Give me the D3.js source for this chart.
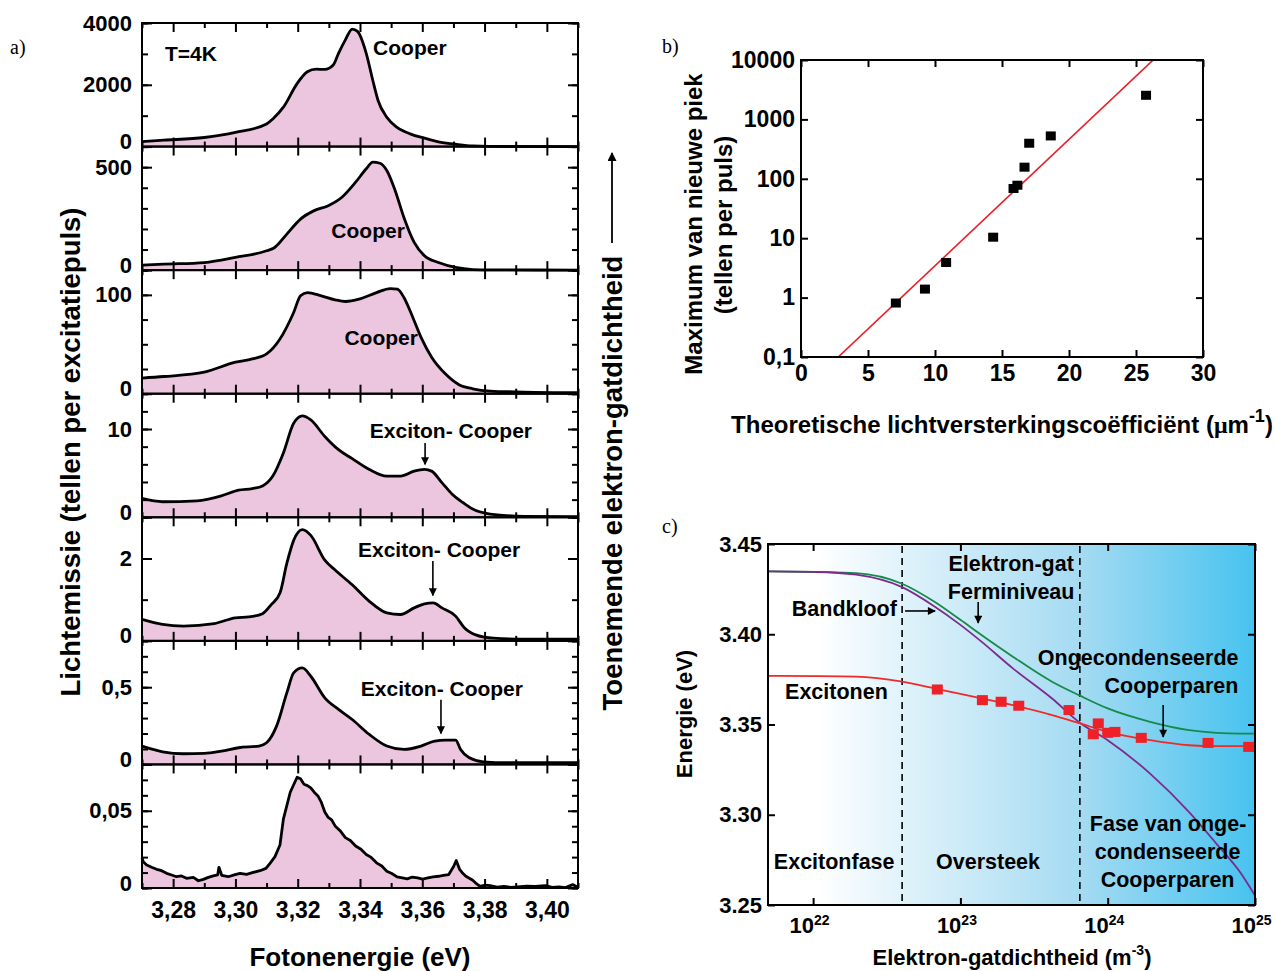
<!DOCTYPE html>
<html>
<head>
<meta charset="utf-8">
<script src="https://cdn.jsdelivr.net/npm/d3@7"></script>
<style>
body { margin: 0; background: #fff; }
text { font-family: "Liberation Sans", Arial, sans-serif; font-weight: bold; }
</style>
</head>
<body>
<svg id="chart"></svg>
<script>
// ---------- panel a: spectra, [photon energy (eV), counts per pulse] ----------
var spectrum1 = [[3.27,163],[3.2771,207],[3.29,294],[3.30,458],[3.31,730],[3.312,894],[3.3154,1275],[3.3198,2038],
  [3.3231,2420],[3.3259,2507],[3.3287,2496],[3.3314,2638],[3.3331,3019],[3.3353,3455],[3.3375,3804],[3.3392,3728],
  [3.342,3019],[3.3441,2147],[3.3458,1493],[3.3486,948],[3.3519,621],[3.3563,403],[3.3607,272],[3.3652,153],
  [3.3707,76],[3.3762,22],[3.387,2],[3.41,1]];
var spectrum2 = [[3.27,24],[3.277,29],[3.29,37],[3.30,62],[3.31,94],[3.3126,110],[3.3165,175],[3.3209,248],
  [3.3253,289],[3.3298,313],[3.3342,354],[3.3386,427],[3.342,492],[3.3441,524],[3.3464,519],[3.3486,484],
  [3.3513,386],[3.3541,256],[3.3574,135],[3.3607,70],[3.3652,37],[3.3707,13],[3.3762,3],[3.382,1],[3.41,0.5]];
var spectrum3 = [[3.27,15.8],[3.277,17.4],[3.29,21.8],[3.30,31.9],[3.3054,35.2],[3.31,40.3],[3.3143,55.4],
  [3.3187,82.2],[3.3209,99],[3.3231,102.3],[3.3276,99],[3.332,95],[3.3353,93.3],[3.3397,95.6],[3.3453,102.3],
  [3.3497,106.4],[3.352,105.7],[3.3541,97.3],[3.3563,82.2],[3.3596,57],[3.363,36.9],[3.3674,20.1],[3.3718,9.1],
  [3.3762,5],[3.3818,2.7],[3.3928,1.7],[3.41,1.0]];
var spectrum4 = [[3.27,2.13],[3.2766,1.76],[3.2877,1.87],[3.2955,2.43],[3.301,3.07],[3.3054,3.25],[3.3087,3.55],
  [3.312,4.67],[3.3154,7.29],[3.3187,10.65],[3.3215,11.48],[3.3242,11.03],[3.3287,9.16],[3.3331,7.66],
  [3.3375,6.65],[3.343,5.42],[3.3486,4.67],[3.353,4.67],[3.3574,5.23],[3.3607,5.42],[3.363,5.23],[3.3663,3.93],
  [3.3696,2.62],[3.373,1.68],[3.3762,0.93],[3.3818,0.37],[3.3928,0.11],[3.41,0.07]];
var spectrum5 = [[3.27,0.52],[3.2766,0.40],[3.2833,0.36],[3.2932,0.42],[3.30,0.56],[3.3043,0.58],[3.3087,0.66],
  [3.3115,0.88],[3.3143,1.16],[3.3165,1.88],[3.3187,2.44],[3.3215,2.70],[3.3242,2.56],[3.3287,1.96],[3.332,1.72],
  [3.3375,1.36],[3.343,0.96],[3.3486,0.68],[3.353,0.64],[3.3574,0.80],[3.3607,0.90],[3.3635,0.92],[3.3663,0.80],
  [3.3707,0.60],[3.3735,0.32],[3.3774,0.14],[3.3829,0.064],[3.3928,0.04],[3.41,0.04]];
var spectrum6 = [[3.27,0.1185],[3.2766,0.082],[3.2833,0.069],[3.29,0.071],[3.2955,0.086],[3.301,0.108],
  [3.3076,0.119],[3.31,0.140],[3.3132,0.248],[3.3165,0.463],[3.3187,0.593],[3.3215,0.625],[3.3242,0.571],
  [3.3287,0.431],[3.3331,0.356],[3.3375,0.291],[3.343,0.194],[3.3486,0.119],[3.3541,0.097],[3.3596,0.119],
  [3.364,0.151],[3.3674,0.157],[3.3707,0.157],[3.3723,0.097],[3.3751,0.043],[3.3796,0.017],[3.3873,0.011],[3.41,0.011]];
var spectrum7 = [[3.27,0.0195],[3.2704,0.017],[3.2715,0.0149],[3.2731,0.0134],[3.2747,0.0121],[3.2763,0.0112],
  [3.2779,0.0095],[3.2795,0.0084],[3.2811,0.0073],[3.2827,0.0078],[3.2843,0.0063],[3.2865,0.0069],[3.2881,0.0047],
  [3.2897,0.0056],[3.2913,0.0069],[3.2929,0.0078],[3.2943,0.0085],[3.2947,0.0134],[3.2956,0.0082],[3.2977,0.0073],
  [3.2999,0.0086],[3.3015,0.0095],[3.3036,0.0088],[3.3057,0.0101],[3.3079,0.0112],[3.3098,0.0127],[3.3111,0.016],
  [3.3127,0.0203],[3.3143,0.0278],[3.3154,0.0446],[3.3176,0.062],[3.3198,0.0717],[3.3209,0.0707],[3.322,0.0672],
  [3.3231,0.0663],[3.3242,0.0648],[3.3253,0.062],[3.3265,0.0596],[3.3276,0.0554],[3.3287,0.0492],[3.3298,0.0457],
  [3.3309,0.0441],[3.332,0.0402],[3.3336,0.0371],[3.3353,0.0326],[3.3369,0.0308],[3.3386,0.0272],[3.3403,0.0251],
  [3.342,0.0217],[3.3436,0.0198],[3.3453,0.0163],[3.347,0.0142],[3.3486,0.0109],[3.3502,0.0094],[3.3519,0.0072],
  [3.3536,0.0066],[3.3552,0.0059],[3.3568,0.0071],[3.3585,0.0065],[3.3601,0.0058],[3.3618,0.0065],[3.3635,0.0072],
  [3.3652,0.0076],[3.3668,0.0081],[3.3685,0.0087],[3.3701,0.0141],[3.3709,0.0178],[3.372,0.012],[3.373,0.0095],
  [3.374,0.0076],[3.3762,0.005],[3.3774,0.0028],[3.3785,0.0011],[3.3802,0.0018],[3.3818,0.0015],[3.384,0.0006],
  [3.3862,0.0011],[3.3884,0.0004],[3.3906,0.0007],[3.3934,0.0012],[3.3962,0.0011],[3.3995,0.0015],[3.4017,0.0004],
  [3.4039,0.0007],[3.406,0.0003],[3.4083,0.0022],[3.41,0.0004]];
var spectra = [spectrum1, spectrum2, spectrum3, spectrum4, spectrum5, spectrum6, spectrum7];

var panelMax = [4000, 600, 125, 14, 3, 0.8, 0.08];
var panelMajor = [[0, 2000, 4000], [0, 500], [0, 100], [0, 10], [0, 2], [0, 0.5], [0, 0.05]];
var panelMinorStep = [1000, 100, 25, 2, 1, 0.1, 0.01];
var energyMajor = [3.28, 3.30, 3.32, 3.34, 3.36, 3.38, 3.40];
var energyMinor = [3.27, 3.29, 3.31, 3.33, 3.35, 3.37, 3.39, 3.41];

// labels placed in data units: [panel, text, energy, value]
var peakLabels = [[0, "T=4K", 3.2857, 2770], [0, "Cooper", 3.356, 2964], [1, "Cooper", 3.3426, 156],
  [2, "Cooper", 3.3468, 49.4], [3, "Exciton- Cooper", 3.3692, 9.0], [4, "Exciton- Cooper", 3.3654, 2.04],
  [5, "Exciton- Cooper", 3.3663, 0.444]];
// arrows: [panel, energy, value from, value to]
var peakArrows = [[3, 3.3609, 8.43, 6.0], [4, 3.3634, 1.94, 1.10], [5, 3.366, 0.418, 0.20]];

// ---------- panel b ----------
var gainX = [7.08, 9.25, 10.83, 14.34, 15.86, 16.15, 16.68, 17.03, 18.64, 25.75];
var peakMax = [0.81, 1.39, 3.9, 10.4, 68.6, 78, 157, 397, 527, 2546];
var fitLogIntercept = -1.592, fitLogSlope = 0.2128;
var gainTicks = [0, 5, 10, 15, 20, 25, 30];
var countTicks = [0.1, 1, 10, 100, 1000, 10000];

// ---------- panel c ----------
var density = [4.94e21, 1.06e22, 1.96e22, 4.02e22, 6.67e22, 1e23, 1.39e23, 2.27e23, 4.19e23, 6.47e23,
  1e24, 1.94e24, 3.57e24, 5.48e24, 7.93e24, 1e25];
var fermiLevel = [3.4348, 3.4345, 3.4339, 3.428, 3.418, 3.408, 3.3996, 3.3876, 3.3737, 3.366,
  3.3589, 3.3515, 3.3469, 3.3454, 3.345, 3.345];
var bandGap = [3.4348, 3.4345, 3.4330, 3.4261, 3.4154, 3.4052, 3.3959, 3.3811, 3.3644, 3.351,
  3.3413, 3.3228, 3.3015, 3.2839, 3.2681, 3.2552];
var excitonFit = [3.3769, 3.3768, 3.3765, 3.3737, 3.370, 3.367, 3.3645, 3.3607, 3.3552, 3.3506,
  3.3459, 3.3413, 3.3385, 3.338, 3.338, 3.338];
var measDensity = [6.97e22, 1.41e23, 1.89e23, 2.49e23, 5.46e23, 8.63e23, 7.98e23, 1.0e24, 1.12e24, 1.69e24, 4.8e24, 9.06e24];
var measEnergy = [3.3694, 3.3635, 3.3626, 3.3604, 3.358, 3.3506, 3.3446, 3.3454, 3.3459, 3.3426, 3.3398, 3.3376];
var phaseBounds = [4.02e22, 6.47e23];
var energyTicks = [3.25, 3.30, 3.35, 3.40, 3.45];
var densityTicks = [1e22, 1e23, 1e24, 1e25];
// [text, density, energy]
var phaseLabels = [["Elektron-gat", 2.21e23, 3.435], ["Ferminiveau", 2.21e23, 3.4195], ["Bandkloof", 1.63e22, 3.4101],
  ["Ongecondenseerde", 1.61e24, 3.383], ["Cooperparen", 2.71e24, 3.3675], ["Excitonen", 1.44e22, 3.3641],
  ["Excitonfase", 1.39e22, 3.27], ["Oversteek", 1.54e23, 3.27], ["Fase van onge-", 2.57e24, 3.291],
  ["condenseerde", 2.55e24, 3.2755], ["Cooperparen", 2.55e24, 3.26]];
// [density from, energy from, density to, energy to]
var phaseArrows = [[1.32e23, 3.4179, 1.32e23, 3.4062], [4.21e22, 3.4129, 6.73e22, 3.4129], [2.38e24, 3.3608, 2.38e24, 3.3431]];

var FONT = '"Liberation Sans", Arial, sans-serif';
var comma = function (f) { return function (d) { return f(d).replace(".", ","); }; };

var svg = d3.select("#chart").attr("width", 1275).attr("height", 971);
var defs = svg.append("defs");
defs.append("marker").attr("id", "arrow").attr("viewBox", "0 0 10 10")
  .attr("refX", 9).attr("refY", 5).attr("markerWidth", 5.5).attr("markerHeight", 5)
  .attr("orient", "auto")
  .append("path").attr("d", "M0,0L10,5L0,10z").attr("fill", "black");

function styleAxis(g, size) {
  g.select(".domain").remove();
  g.attr("font-family", FONT).attr("font-size", size).attr("font-weight", "bold");
  g.selectAll("line").attr("stroke-width", 2);
  g.selectAll("text").attr("fill", "black");
  return g;
}

// ================= panel a =================
var xA = d3.scaleLinear().domain([3.27, 3.41]).range([142, 578]);
var panelH = 865 / 7;

spectra.forEach(function (s, i) {
  var top = 23 + i * panelH, bottom = top + panelH;
  var y = d3.scaleLinear().domain([0, panelMax[i]]).range([bottom, top]);
  var g = svg.append("g");
  var curve = i < 6 ? d3.curveMonotoneX : d3.curveLinear;

  g.append("path").datum(s)
    .attr("d", d3.area().x(function (d) { return xA(d[0]); }).y0(bottom).y1(function (d) { return y(d[1]); }).curve(curve))
    .attr("fill", "#ecc6de");
  g.append("path").datum(s)
    .attr("d", d3.line().x(function (d) { return xA(d[0]); }).y(function (d) { return y(d[1]); }).curve(curve))
    .attr("fill", "none").attr("stroke", "black").attr("stroke-width", 2.8).attr("stroke-linejoin", "round");

  var minor = d3.range(0, panelMax[i] + 1e-9, panelMinorStep[i]);

  var yl = styleAxis(g.append("g").attr("transform", "translate(142,0)")
    .call(d3.axisLeft(y).tickValues(panelMajor[i]).tickSize(-10).tickPadding(10)
      .tickFormat(comma(d3.format("~g")))), 22);
  // lift the zero label a little so it clears the label of the panel below
  yl.selectAll(".tick text").filter(function (d) { return d === 0; }).attr("y", -5);
  styleAxis(g.append("g").attr("transform", "translate(142,0)")
    .call(d3.axisLeft(y).tickValues(minor).tickSize(-6).tickFormat("")), 20);
  styleAxis(g.append("g").attr("transform", "translate(578,0)")
    .call(d3.axisRight(y).tickValues(panelMajor[i]).tickSize(-10).tickFormat("")), 20);
  styleAxis(g.append("g").attr("transform", "translate(578,0)")
    .call(d3.axisRight(y).tickValues(minor).tickSize(-6).tickFormat("")), 20);

  styleAxis(g.append("g").attr("transform", "translate(0," + top + ")")
    .call(d3.axisTop(xA).tickValues(energyMajor).tickSize(-9).tickFormat("")), 20);
  styleAxis(g.append("g").attr("transform", "translate(0," + top + ")")
    .call(d3.axisTop(xA).tickValues(energyMinor).tickSize(-5).tickFormat("")), 20);
  styleAxis(g.append("g").attr("transform", "translate(0," + bottom + ")")
    .call(d3.axisBottom(xA).tickValues(energyMajor).tickSize(-9).tickPadding(14)
      .tickFormat(i === 6 ? comma(d3.format(".2f")) : "")), 23);
  styleAxis(g.append("g").attr("transform", "translate(0," + bottom + ")")
    .call(d3.axisBottom(xA).tickValues(energyMinor).tickSize(-5).tickFormat("")), 20);

  g.append("rect").attr("x", 142).attr("y", top).attr("width", 436).attr("height", panelH)
    .attr("fill", "none").attr("stroke", "black").attr("stroke-width", 2);

  peakLabels.filter(function (p) { return p[0] === i; }).forEach(function (p) {
    g.append("text").attr("x", xA(p[2])).attr("y", y(p[3])).attr("text-anchor", "middle")
      .attr("font-size", 21).text(p[1]);
  });
  peakArrows.filter(function (p) { return p[0] === i; }).forEach(function (p) {
    g.append("line").attr("x1", xA(p[1])).attr("x2", xA(p[1])).attr("y1", y(p[2])).attr("y2", y(p[3]))
      .attr("stroke", "black").attr("stroke-width", 1.6).attr("marker-end", "url(#arrow)");
  });
});

svg.append("text").attr("transform", "translate(80,452) rotate(-90)").attr("text-anchor", "middle")
  .attr("font-size", 27.5).text("Lichtemissie (tellen per excitatiepuls)");
svg.append("text").attr("x", 360).attr("y", 966).attr("text-anchor", "middle")
  .attr("font-size", 26).text("Fotonenergie (eV)");
svg.append("text").attr("transform", "translate(622,483) rotate(-90)").attr("text-anchor", "middle")
  .attr("font-size", 27.5).text("Toenemende elektron-gatdichtheid");
svg.append("line").attr("x1", 612).attr("x2", 612).attr("y1", 243).attr("y2", 153)
  .attr("stroke", "black").attr("stroke-width", 1.8).attr("marker-end", "url(#arrow)");

// panel letters
[["a)", 10, 54], ["b)", 662, 53], ["c)", 662, 533]].forEach(function (l) {
  svg.append("text").attr("x", l[1]).attr("y", l[2]).attr("font-size", 20)
    .style("font-family", '"Liberation Serif", "Times New Roman", serif').style("font-weight", "normal").text(l[0]);
});

// ================= panel b =================
var xB = d3.scaleLinear().domain([0, 30]).range([801, 1203]);
var yB = d3.scaleLog().domain([0.1, 10000]).range([357, 60]);
var gb = svg.append("g");
gb.append("clipPath").attr("id", "clipB").append("rect")
  .attr("x", 801).attr("y", 60).attr("width", 402).attr("height", 297);

var fitLine = d3.line().x(function (d) { return xB(d); })
  .y(function (d) { return yB(Math.pow(10, fitLogIntercept + fitLogSlope * d)); });
gb.append("path").datum([0, 30]).attr("d", fitLine).attr("clip-path", "url(#clipB)")
  .attr("fill", "none").attr("stroke", "#e8202a").attr("stroke-width", 1.6);

gb.selectAll(".sq").data(gainX).enter().append("rect")
  .attr("x", function (d) { return xB(d) - 5; })
  .attr("y", function (d, i) { return yB(peakMax[i]) - 4.5; })
  .attr("width", 10).attr("height", 9).attr("fill", "black");

styleAxis(gb.append("g").attr("transform", "translate(801,0)")
  .call(d3.axisLeft(yB).tickValues(countTicks).tickSize(-7).tickPadding(6)
    .tickFormat(function (d) { return d < 1 ? "0,1" : String(d); })), 23);
styleAxis(gb.append("g").attr("transform", "translate(1203,0)")
  .call(d3.axisRight(yB).tickValues(countTicks).tickSize(-7).tickFormat("")), 20);
styleAxis(gb.append("g").attr("transform", "translate(0,357)")
  .call(d3.axisBottom(xB).tickValues(gainTicks).tickSize(-7).tickPadding(8)), 23);
styleAxis(gb.append("g").attr("transform", "translate(0,60)")
  .call(d3.axisTop(xB).tickValues(gainTicks).tickSize(-7).tickFormat("")), 20);
gb.append("rect").attr("x", 801).attr("y", 60).attr("width", 402).attr("height", 297)
  .attr("fill", "none").attr("stroke", "black").attr("stroke-width", 2);

gb.append("text").attr("transform", "translate(702,224) rotate(-90)").attr("text-anchor", "middle")
  .attr("font-size", 24).text("Maximum van nieuwe piek");
gb.append("text").attr("transform", "translate(732,225) rotate(-90)").attr("text-anchor", "middle")
  .attr("font-size", 24).text("(tellen per puls)");
var tb = gb.append("text").attr("x", 1002).attr("y", 433).attr("text-anchor", "middle").attr("font-size", 24);
tb.append("tspan").text("Theoretische lichtversterkingscoëfficiënt (");
tb.append("tspan").style("font-family", '"Liberation Serif", serif').text("μ");
tb.append("tspan").text("m");
tb.append("tspan").attr("dy", -11).attr("font-size", 18).text("-1");
tb.append("tspan").attr("dy", 11).text(")");

// ================= panel c =================
var xC = d3.scaleLog().domain([4.94e21, 1e25]).range([768, 1255]);
var yC = d3.scaleLinear().domain([3.25, 3.45]).range([905, 544]);
var gc = svg.append("g");

var grad = defs.append("linearGradient").attr("id", "bgC").attr("x1", "0").attr("x2", "1").attr("y1", "0").attr("y2", "0");
[[0, "#ffffff"], [0.1, "#ffffff"], [0.3, "#dcf1fa"], [0.64, "#a5dbf2"], [1, "#47c3ef"]].forEach(function (s) {
  grad.append("stop").attr("offset", s[0]).attr("stop-color", s[1]);
});
gc.append("rect").attr("x", 768).attr("y", 544).attr("width", 487).attr("height", 361).attr("fill", "url(#bgC)");

gc.selectAll(".bound").data(phaseBounds).enter().append("line")
  .attr("x1", function (d) { return xC(d); }).attr("x2", function (d) { return xC(d); })
  .attr("y1", 546).attr("y2", 903)
  .attr("stroke", "black").attr("stroke-width", 1.6).attr("stroke-dasharray", "7,5");

var lineC = function (vals) {
  return d3.line().x(function (d) { return xC(d); }).y(function (d, i) { return yC(vals[i]); }).curve(d3.curveMonotoneX);
};
gc.append("clipPath").attr("id", "clipC").append("rect")
  .attr("x", 768).attr("y", 544).attr("width", 487).attr("height", 361);
[[fermiLevel, "#168a48"], [bandGap, "#7d2a8c"], [excitonFit, "#ee2a2a"]].forEach(function (c) {
  gc.append("path").datum(density).attr("d", lineC(c[0])).attr("clip-path", "url(#clipC)")
    .attr("fill", "none").attr("stroke", c[1]).attr("stroke-width", 1.8);
});
gc.selectAll(".msq").data(measDensity).enter().append("rect")
  .attr("x", function (d) { return xC(d) - 5.5; })
  .attr("y", function (d, i) { return yC(measEnergy[i]) - 5; })
  .attr("width", 11).attr("height", 10).attr("fill", "#ee2028");

styleAxis(gc.append("g").attr("transform", "translate(768,0)")
  .call(d3.axisLeft(yC).tickValues(energyTicks).tickSize(-7).tickPadding(6).tickFormat(d3.format(".2f"))), 22);
styleAxis(gc.append("g").attr("transform", "translate(1255,0)")
  .call(d3.axisRight(yC).tickValues(energyTicks).tickSize(-7).tickFormat("")), 20);
styleAxis(gc.append("g").attr("transform", "translate(0,544)")
  .call(d3.axisTop(xC).tickValues(densityTicks).tickSize(-7).tickFormat("")), 20);
var bx = styleAxis(gc.append("g").attr("transform", "translate(0,905)")
  .call(d3.axisBottom(xC).tickValues(densityTicks).tickSize(-7).tickPadding(12).tickFormat("")), 22);
bx.selectAll(".tick text").each(function (d) {
  var t = d3.select(this).attr("dx", "-4");
  t.append("tspan").text("10");
  t.append("tspan").attr("dy", "-0.55em").attr("font-size", 14).text(String(Math.round(Math.log10(d))));
});
gc.append("rect").attr("x", 768).attr("y", 544).attr("width", 487).attr("height", 361)
  .attr("fill", "none").attr("stroke", "black").attr("stroke-width", 2);

phaseLabels.forEach(function (p) {
  gc.append("text").attr("x", xC(p[1])).attr("y", yC(p[2])).attr("text-anchor", "middle")
    .attr("font-size", 21.5).text(p[0]);
});
phaseArrows.forEach(function (a) {
  gc.append("line").attr("x1", xC(a[0])).attr("y1", yC(a[1])).attr("x2", xC(a[2])).attr("y2", yC(a[3]))
    .attr("stroke", "black").attr("stroke-width", 1.6).attr("marker-end", "url(#arrow)");
});

gc.append("text").attr("transform", "translate(692,714) rotate(-90)").attr("text-anchor", "middle")
  .attr("font-size", 22).text("Energie (eV)");
var tc = gc.append("text").attr("x", 1012).attr("y", 965).attr("text-anchor", "middle").attr("font-size", 22);
tc.append("tspan").text("Elektron-gatdichtheid (m");
tc.append("tspan").attr("dy", -10).attr("font-size", 14).text("-3");
tc.append("tspan").attr("dy", 10).text(")");
</script>
</body>
</html>
